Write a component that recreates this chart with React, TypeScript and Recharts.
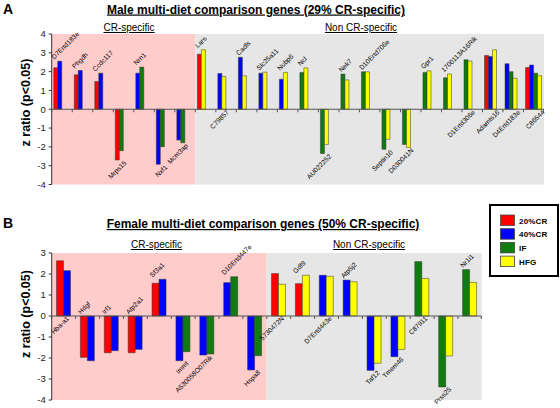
import React from 'react';
import { BarChart, Bar, XAxis, YAxis, Cell, ReferenceArea, ReferenceLine, LabelList } from 'recharts';

const FONT = '"Liberation Sans", Arial, sans-serif';
const SERIES_NAMES = ['20%CR', '40%CR', 'IF', 'HFG'];
const SERIES_COLORS = ['#FF0000', '#0000FF', '#107C10', '#FFFF00'];
const PINK = '#FFCCCC';
const GRAY = '#E6E6E6';

// ---------- Panel A: Male ----------
const A_GENES = ['D7Ertd183e', 'Phgdh', 'Ccdc117', 'Mrps15', 'Nrn1', 'Nxf1', 'Mcm3ap',
  'Lars', 'C79857', 'Cadls', 'Slc25a11', 'Nubp6', 'Ncl', 'AU022252', 'Nek7', 'D10Ertd706e',
  'Septin10', 'D030041N', 'Gpr1', '1700113A16Rik', 'D1Ertd306e', 'Adamts16', 'D4Ertd183e', 'C86544'];
const A_CR20 = [2.2, 1.83, 1.47, -2.7, null, null, null, 2.93, null, null, null, null, null, null, null, null, null, null, null, null, null, 2.86, null, 2.22];
const A_CR40 = [2.55, 2.06, 1.92, null, 1.92, -2.93, -1.64, null, 1.9, 2.76, 1.92, 1.6, null, null, null, null, null, null, null, null, null, 2.81, 2.42, 2.35];
const A_IF = [null, null, null, -2.2, 2.24, -1.99, -1.78, null, null, null, null, null, 1.96, -2.35, 1.87, 1.99, -2.13, -1.87, 1.96, 1.67, 2.63, null, 2.0, 1.92];
const A_HFG = [null, null, null, null, null, null, null, 3.16, 1.74, 1.78, 1.97, 1.96, 2.2, -1.87, 1.56, 1.99, -1.6, -2.03, 2.04, 1.87, 2.56, 3.16, 1.65, 1.78];
const A_LABEL_BELOW = ['Mrps15', 'Nxf1', 'Mcm3ap', 'C79857', 'AU022252', 'Septin10', 'D030041N', 'D1Ertd306e', 'Adamts16', 'D4Ertd183e', 'C86544'];
const A_CR_SPECIFIC = ['D7Ertd183e', 'Mcm3ap'];
const A_NON_CR = ['Lars', 'C86544'];
const A_TICKS = [-4, -3, -2, -1, 0, 1, 2, 3, 4];

// ---------- Panel B: Female ----------
const B_GENES = ['Hba-a1', 'Hdgf', 'Irf1', 'Atp2a1', 'Sf3a1', 'Immt', 'A530058O07Rik', 'D10Ertd447e', 'Hspa8',
  '5730472N', 'Gdf9', 'D7Ertd443e', 'Atp5j2', 'Taf12', 'Tmem46', 'C87911', 'Prss25', 'Nr1i1'];
const B_CR20 = [2.63, -1.97, -1.75, -1.75, 1.56, null, null, null, null, 2.02, 1.54, null, null, null, null, null, null, null];
const B_CR40 = [2.16, -2.13, -1.65, -1.59, 1.75, -2.13, -1.86, 1.59, -2.57, null, null, 1.94, 1.71, -2.59, -1.94, null, null, null];
const B_IF = [null, null, null, null, null, -1.7, -1.81, 1.87, -1.89, null, null, null, null, null, null, 2.59, -3.38, 2.21];
const B_HFG = [null, null, null, null, null, null, null, null, null, 1.51, 1.94, 1.89, 1.63, -2.25, -1.59, 1.79, -1.9, 1.6];
const B_LABEL_BELOW = ['Hba-a1', 'Immt', 'A530058O07Rik', 'Hspa8', '5730472N', 'D7Ertd443e', 'Taf12', 'Tmem46', 'C87911', 'Prss25'];
const B_CR_SPECIFIC = ['Hba-a1', 'Hspa8'];
const B_NON_CR = ['5730472N', 'Nr1i1'];
const B_TICKS = [-4, -3, -2, -1, 0, 1, 2, 3];

type Row = { gene: string; values: number[]; colors: string[]; below: boolean; [k: string]: any };

function buildRows(genes: string[], series: (number | null)[][], below: string[], slots: number): Row[] {
  return genes.map((gene, i) => {
    const values: number[] = [];
    const colors: string[] = [];
    series.forEach((s, k) => {
      const v = s[i];
      if (v !== null && v !== undefined) {
        values.push(v);
        colors.push(SERIES_COLORS[k]);
      }
    });
    const row: Row = { gene, values, colors, below: below.includes(gene) };
    for (let k = 0; k < slots; k++) row['s' + k] = k < values.length ? values[k] : null;
    return row;
  });
}

const A_SLOTS = 4;
const B_SLOTS = 2;
const A_GAP = 0.1;
const B_GAP = 0.2;
const A_ROWS = buildRows(A_GENES, [A_CR20, A_CR40, A_IF, A_HFG], A_LABEL_BELOW, A_SLOTS);
const B_ROWS = buildRows(B_GENES, [B_CR20, B_CR40, B_IF, B_HFG], B_LABEL_BELOW, B_SLOTS);

function makeDecor(prefix: string, rows: Row[], gapFrac: number, slots: number, belowDx: number, belowDy: number) {
  return function GroupDecor(props: any) {
    const vb = props.viewBox || {};
    const x = Number(vb.x ?? props.x);
    const y = Number(vb.y ?? props.y);
    const width = Number(vb.width ?? props.width);
    const height = Number(vb.height ?? props.height);
    const idx = props.index;
    const row = rows[idx];
    if (!row || !isFinite(x) || !isFinite(y)) return null;
    const v0 = row.values[0];
    const top = Math.min(y, y + height);
    const bot = Math.max(y, y + height);
    const ppu = (bot - top) / Math.abs(v0);
    const zeroY = v0 >= 0 ? bot : top;
    const maxV = Math.max(0, ...row.values);
    const minV = Math.min(0, ...row.values);
    const topY = zeroY - maxV * ppu;
    const botY = zeroY - minV * ppu;
    const w = Math.abs(width);
    const offset = (gapFrac * slots * w) / (1 - 2 * gapFrac);
    const left = x - offset;
    const band = slots * w + 2 * offset;
    const groupRight = x + row.values.length * w;
    const isLast = idx === rows.length - 1;
    const below = row.below;
    const lx = below ? groupRight + belowDx : x + 0.5;
    const ly = below ? botY + belowDy : topY - 1.5;
    const L = 90;
    const d = below
      ? `M ${(lx - L).toFixed(2)} ${(ly + L).toFixed(2)} L ${lx.toFixed(2)} ${ly.toFixed(2)}`
      : `M ${lx.toFixed(2)} ${ly.toFixed(2)} L ${(lx + L).toFixed(2)} ${(ly - L).toFixed(2)}`;
    const id = `${prefix}-lp-${idx}`;
    return (
      <g>
        <line x1={left} x2={left} y1={zeroY} y2={zeroY + 3} stroke="#555" strokeWidth={1} />
        {isLast && <line x1={left + band} x2={left + band} y1={zeroY} y2={zeroY + 3} stroke="#555" strokeWidth={1} />}
        <path id={id} d={d} fill="none" stroke="none" />
        <text fontSize={6.7} fontFamily={FONT} fill="#000" stroke="none" textRendering="geometricPrecision">
          <textPath href={`#${id}`} startOffset={below ? '100%' : '0%'} textAnchor={below ? 'end' : 'start'} fill="#000">
            {row.gene}
          </textPath>
        </text>
      </g>
    );
  };
}

const A_DECOR = makeDecor('a', A_ROWS, A_GAP, A_SLOTS, 3.5, 3.5);
const B_DECOR = makeDecor('b', B_ROWS, B_GAP, B_SLOTS, -1, 3);

function Panel(props: {
  rows: Row[]; slots: number; gap: number; ticks: number[]; crRange: string[]; nonRange: string[];
  width: number; height: number; margin: any; decor: any;
}) {
  const { rows, slots, gap, ticks, crRange, nonRange, width, height, margin, decor } = props;
  const bars = [];
  for (let k = 0; k < slots; k++) {
    bars.push(
      <Bar key={k} dataKey={'s' + k} isAnimationActive={false} stroke="#333" strokeWidth={0.5}>
        {rows.map((r, i) => (
          <Cell key={i} fill={r.colors[k] || 'none'} />
        ))}
        {k === 0 && <LabelList dataKey="s0" content={decor} />}
      </Bar>
    );
  }
  return (
    <BarChart width={width} height={height} data={rows} margin={margin} barGap={0} barCategoryGap={`${gap * 100}%`}>
      <XAxis dataKey="gene" hide />
      <YAxis
        type="number"
        domain={[ticks[0], ticks[ticks.length - 1]]}
        ticks={ticks}
        interval={0}
        width={51.7}
        axisLine={{ stroke: '#333' }}
        tickLine={{ stroke: '#333' }}
        tickSize={3}
        tickMargin={3}
        tick={{ fontSize: 9.5, fill: '#222', fontFamily: FONT }}
        allowDataOverflow
      />
      <ReferenceArea x1={crRange[0]} x2={crRange[1]} fill={PINK} fillOpacity={1} stroke="none" ifOverflow="visible" />
      <ReferenceArea x1={nonRange[0]} x2={nonRange[1]} fill={GRAY} fillOpacity={1} stroke="none" ifOverflow="visible" />
      <ReferenceLine y={0} stroke="#555" strokeWidth={1} />
      {bars}
    </BarChart>
  );
}

export default function App() {
  return (
    <div style={{ position: 'absolute', left: 0, top: 0, width: 560, height: 408, background: '#fff', fontFamily: FONT, overflow: 'hidden' }}>
      <div style={{ position: 'absolute', left: 0, top: 0 }}>
        <Panel rows={A_ROWS} slots={A_SLOTS} gap={A_GAP} ticks={A_TICKS} crRange={A_CR_SPECIFIC} nonRange={A_NON_CR}
          width={560} height={200} margin={{ top: 34, right: 16, bottom: 15.5, left: 0 }} decor={A_DECOR} />
      </div>
      <div style={{ position: 'absolute', left: 0, top: 200 }}>
        <Panel rows={B_ROWS} slots={B_SLOTS} gap={B_GAP} ticks={B_TICKS} crRange={B_CR_SPECIFIC} nonRange={B_NON_CR}
          width={560} height={208} margin={{ top: 53, right: 78.3, bottom: 8, left: 0 }} decor={B_DECOR} />
      </div>
      <svg width={560} height={408} style={{ position: 'absolute', left: 0, top: 0, pointerEvents: 'none' }}>
        <g fontFamily={FONT} fill="#000">
          <text x={3} y={13.5} fontSize={14} fontWeight="bold">A</text>
          <text x={256} y={13.5} fontSize={12} fontWeight="bold" textAnchor="middle" style={{ textDecoration: 'underline' }}>
            Male multi-diet comparison genes (29% CR-specific)
          </text>
          <text x={129} y={31} fontSize={10} textAnchor="middle" style={{ textDecoration: 'underline' }}>CR-specific</text>
          <text x={361} y={31} fontSize={10} textAnchor="middle" style={{ textDecoration: 'underline' }}>Non CR-specific</text>
          <text x={30} y={102.5} fontSize={12.5} fontWeight="bold" textAnchor="middle" transform="rotate(-90 30 102.5)">z ratio (p&lt;0.05)</text>

          <text x={3} y={227.5} fontSize={14} fontWeight="bold">B</text>
          <text x={263} y={228} fontSize={12} fontWeight="bold" textAnchor="middle" style={{ textDecoration: 'underline' }}>
            Female multi-diet comparison genes (50% CR-specific)
          </text>
          <text x={156.5} y={248} fontSize={10} textAnchor="middle" style={{ textDecoration: 'underline' }}>CR-specific</text>
          <text x={369} y={248} fontSize={10} textAnchor="middle" style={{ textDecoration: 'underline' }}>Non CR-specific</text>
          <text x={29.5} y={314} fontSize={12.5} fontWeight="bold" textAnchor="middle" transform="rotate(-90 29.5 314)">z ratio (p&lt;0.05)</text>

          <rect x={490} y={205} width={68} height={71} fill="#fff" stroke="#000" strokeWidth={2} />
          {SERIES_NAMES.map((name, i) => (
            <g key={name}>
              <rect x={500.5} y={215 + i * 13.7} width={14} height={10.5} fill={SERIES_COLORS[i]} stroke="#444" strokeWidth={0.8} />
              <text x={519} y={223.5 + i * 13.7} fontSize={8} fontWeight="bold" letterSpacing={0.2}>{name}</text>
            </g>
          ))}
        </g>
      </svg>
    </div>
  );
}
